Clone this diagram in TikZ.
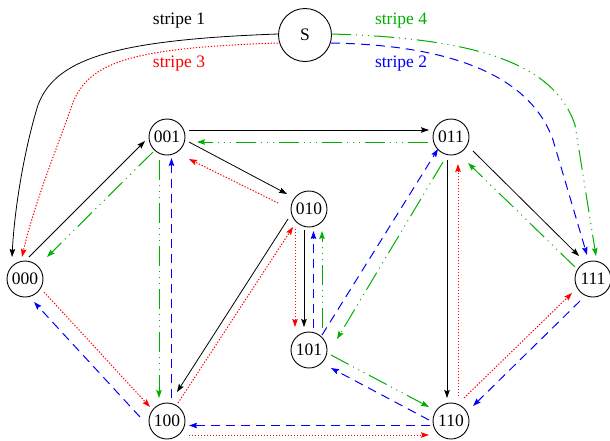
\documentclass[tikz,border=0pt]{standalone}
\usepackage{fontspec}
\setmainfont{Liberation Serif}
\usetikzlibrary{arrows.meta,calc}
\definecolor{fgreen}{RGB}{0,175,0}
\definecolor{fblue}{RGB}{0,0,255}
\definecolor{fred}{RGB}{255,0,0}
\begin{document}
\begin{tikzpicture}[x=1pt,y=-1pt,
  state/.style={draw,circle,line width=0.9pt,minimum size=36pt,inner sep=0pt,font=\fontsize{17.5}{20}\selectfont},
  lbl/.style={font=\fontsize{17.5}{20}\selectfont,inner sep=0pt},
  tip/.style={-{Stealth[length=8pt,width=5.5pt,inset=1.2pt]}},
  blk/.style={tip,line width=0.8pt,black},
  rdot/.style={tip,line width=1pt,fred,dash pattern=on 1.3pt off 1.7pt},
  bdash/.style={tip,line width=1pt,fblue,dash pattern=on 9pt off 6pt},
  gdd/.style={tip,line width=1pt,fgreen,dash pattern=on 20pt off 5pt on 1pt off 5pt on 1pt off 5pt on 1pt off 5pt}]
\useasboundingbox (0,0) rectangle (610,440);
% nodes
\node[state,minimum size=53pt] (S) at (305,35) {S};
\node[state] (n000) at (25,279) {000};
\node[state] (n001) at (167,137) {001};
\node[state] (n010) at (309,209) {010};
\node[state] (n011) at (451,137) {011};
\node[state] (n100) at (167,421) {100};
\node[state] (n101) at (309,350) {101};
\node[state] (n110) at (451,421) {110};
\node[state] (n111) at (593,279) {111};
% labels
\node[lbl] (l1) at (179,21) {stripe 1};
\node[lbl,text=fred] (l3) at (179,64) {stripe 3};
\node[lbl,text=fgreen] (l4) at (401,21) {stripe 4};
\node[lbl,text=fblue] (l2) at (401,64) {stripe 2};
% stripe 1 (black)
\draw[blk] ($(S)+(-27,-1)$) .. controls (110,40) and (55,60) .. (38,105) .. controls (27,140) and (15,200) .. ($(n000)+(-13,-22)$);
\draw[blk] ($(n000)+(4,-22)$) -- ($(n001)+(-22,4)$);
\draw[blk] ($(n001)+(22,-7)$) -- ($(n011)+(-22,-7)$);
\draw[blk] ($(n001)+(22,5)$) -- ($(n010)+(-22,-15)$);
\draw[blk] ($(n010)+(-21,10)$) -- ($(n100)+(10,-29)$);
\draw[blk] ($(n010)+(-5,21)$) -- ($(n101)+(-5,-23)$);
\draw[blk] ($(n011)+(22,14)$) -- ($(n111)+(-14,-23)$);
\draw[blk] ($(n011)+(-4,23)$) -- ($(n110)+(-4,-23)$);
% stripe 3 (red)
\draw[rdot] ($(S)+(-27,8)$) .. controls (130,48) and (88,62) .. (72,105) .. controls (62,135) and (35,200) .. ($(n000)+(-3,-22)$);
\draw[rdot] ($(n000)+(19,13)$) -- ($(n100)+(-17,-14)$);
\draw[rdot] ($(n100)+(11,-18)$) -- ($(n010)+(-16,18)$);
\draw[rdot] ($(n010)+(-31,-6)$) -- ($(n001)+(22,22)$);
\draw[rdot] ($(n010)+(-14,20)$) -- ($(n101)+(-14,-23)$);
\draw[rdot] ($(n100)+(22,14)$) -- ($(n110)+(-22,14)$);
\draw[rdot] ($(n110)+(7,-25)$) -- ($(n011)+(7,27)$);
\draw[rdot] ($(n110)+(13,-23)$) -- ($(n111)+(-21,14)$);
% stripe 2 (blue)
\draw[bdash] ($(S)+(26,8)$) .. controls (450,45) and (530,75) .. (553,140) -- ($(n111)+(-6,-24)$);
\draw[bdash] ($(n111)+(-13,22)$) -- ($(n110)+(22,-15)$);
\draw[bdash] ($(n110)+(-21,4.5)$) -- ($(n100)+(22,4.5)$);
\draw[bdash] ($(n110)+(-22,-1)$) -- ($(n101)+(22,18)$);
\draw[bdash] ($(n101)+(13,-15)$) -- ($(n011)+(-13,12)$);
\draw[bdash] ($(n101)+(4.5,-22)$) -- ($(n010)+(4.5,22)$);
\draw[bdash] ($(n100)+(4.5,-23)$) -- ($(n001)+(4.5,21)$);
\draw[bdash] ($(n100)+(-27,-4)$) -- ($(n000)+(9,23)$);
% stripe 4 (green)
\draw[gdd] ($(S)+(26,-1)$) .. controls (480,38) and (555,65) .. (575,125) -- ($(n111)+(3,-23)$);
\draw[gdd] ($(n111)+(-18,-12)$) -- ($(n011)+(17,26)$);
\draw[gdd] ($(n011)+(-23,5)$) -- ($(n001)+(30,5)$);
\draw[gdd] ($(n011)+(-8,25)$) -- ($(n101)+(28,-11)$);
\draw[gdd] ($(n101)+(13,-22)$) -- ($(n010)+(13,22)$);
\draw[gdd] ($(n101)+(22,5)$) -- ($(n110)+(-22,-14)$);
\draw[gdd] ($(n001)+(-14,15)$) -- ($(n000)+(22,-22)$);
\draw[gdd] ($(n001)+(-8,23)$) -- ($(n100)+(-8,-23)$);
\end{tikzpicture}
\end{document}
